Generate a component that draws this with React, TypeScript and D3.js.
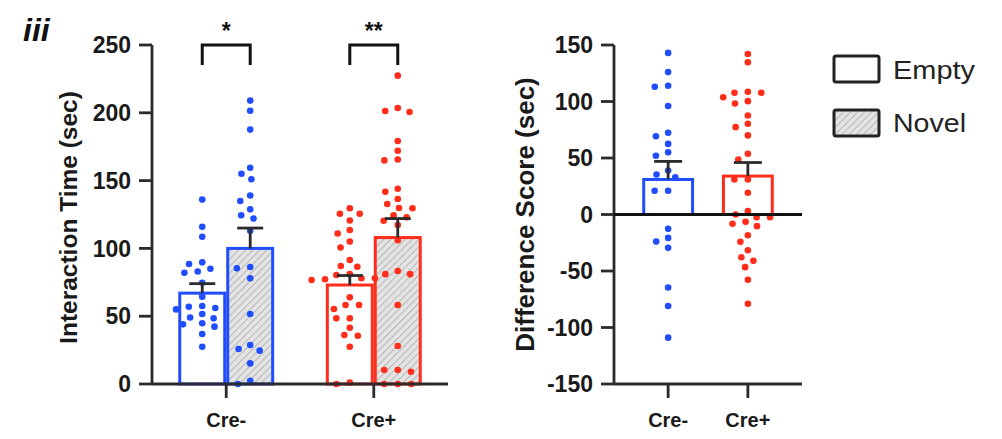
import React from "react";
import * as d3 from "d3";

// Groups and conditions
const groups = ["Cre-", "Cre+"];
const conditions = ["Empty", "Novel"];

// Interaction time (sec), one value per animal
const creMinusEmpty = [136, 116, 108.6, 85, 89.7, 82, 88.5, 83, 74.7, 64.4, 57, 51.6, 44, 55, 48.4, 42.3, 56, 44.8, 57.5, 49, 36.9, 27.5];
const creMinusNovel = [209, 201.5, 187.6, 159.5, 151, 155, 135, 139, 128.8, 124.4, 122, 113, 85.3, 86.3, 78, 51.6, 28.8, 24.6, 25.8, 15.2, 2.4, 0];
const crePlusEmpty = [129.6, 125.6, 125.6, 120.6, 113.6, 111, 105, 100.7, 91.4, 86.5, 87, 78, 81, 77.2, 78, 80.4, 76.7, 63.9, 55.3, 58.3, 58.3, 48.4, 48.4, 41.5, 35.6, 36.1, 27.5, 0, 1];
const crePlusNovel = [227.4, 203.5, 201.3, 200.6, 179.2, 172, 164.9, 165.6, 141.7, 144, 136.4, 132.7, 129.8, 129.6, 124.4, 122.9, 120.4, 117.3, 106, 81, 83.3, 81, 58.3, 28, 10.3, 9, 10.3, 0, 0, 0];

// Group means and SEM for interaction time: [Empty, Novel]
const meanCreMinus = [67, 100];
const meanCrePlus = [73, 108];
const semCreMinus = [7, 15];
const semCrePlus = [7, 14];

// Difference score (Novel - Empty, sec)
const diffCreMinus = [143, 126, 114, 113, 96, 72.3, 69.3, 62.5, 55, 52, 39, 35.4, 33, 21, 21, -12.7, -24, -20.7, -29.5, -64.6, -81, -109];
const diffCrePlus = [142, 134.8, 107.7, 108.6, 103.8, 107.7, 100.3, 98.2, 87.6, 77.3, 80.3, 70, 53.7, 48.7, 31, 31, 19.2, 3, 0, -6.5, -2.4, -2.4, -10.3, -8.2, -18.3, -24.2, -31.6, -37.8, -41, -46.6, -57.8, -79];
const meanDiff = [31, 34];
const semDiff = [16, 12];

const interactionTicks = [0, 50, 100, 150, 200, 250];
const diffTicks = [-150, -100, -50, 0, 50, 100, 150];
const significance = ["*", "**"];

const BLUE = "#1f4dff";
const RED = "#ff2d1a";
const AXIS = "#2b2b2b";
const FONT = "'Liberation Sans', Arial, Helvetica, sans-serif";

// Simple beeswarm: x offsets so dots (elliptical footprint) don't overlap
function swarm(values: number[], y: (v: number) => number, rx = 13.5, ry = 8): number[] {
  const order = values.map((_, i) => i).sort((a, b) => values[b] - values[a]);
  const placed: { x: number; y: number }[] = [];
  const out: number[] = new Array(values.length).fill(0);
  for (const i of order) {
    const py = y(values[i]);
    const intervals: [number, number][] = [];
    for (const p of placed) {
      const dy = Math.abs(p.y - py);
      if (dy < ry) {
        const h = rx * Math.sqrt(1 - (dy / ry) ** 2);
        intervals.push([p.x - h, p.x + h]);
      }
    }
    const cands = [0, ...intervals.flatMap(([a, b]) => [a, b])].sort((a, b) => Math.abs(a) - Math.abs(b) || a - b);
    let x = 0;
    for (const c of cands) {
      if (intervals.every(([a, b]) => c <= a + 1e-6 || c >= b - 1e-6)) {
        x = c;
        break;
      }
    }
    placed.push({ x, y: py });
    out[i] = x;
  }
  return out;
}

function Dots({ values, cx, y, color }: { values: number[]; cx: number; y: (v: number) => number; color: string }) {
  const offs = swarm(values, y);
  return (
    <g>
      {values.map((v, i) => (
        <circle key={i} cx={cx + offs[i]} cy={y(v)} r={3.3} fill={color} />
      ))}
    </g>
  );
}

function ErrorBar({ cx, y, mean, sem, cap }: { cx: number; y: (v: number) => number; mean: number; sem: number; cap: number }) {
  const top = y(mean + sem);
  return (
    <g stroke={AXIS} strokeWidth={2.8} fill="none">
      <line x1={cx} x2={cx} y1={y(mean)} y2={top} />
      <line x1={cx - cap} x2={cx + cap} y1={top} y2={top} />
    </g>
  );
}

export default function App() {
  // ----- Left panel: interaction time -----
  const yL = d3.scaleLinear().domain([0, 250]).range([384, 45]);
  const xL = d3.scaleBand<string>().domain(groups).range([152, 448]).paddingInner(0.35).paddingOuter(0.178);
  const subL = d3.scaleBand<string>().domain(conditions).range([0, xL.bandwidth()]);
  const leftPoints = [
    [creMinusEmpty, creMinusNovel],
    [crePlusEmpty, crePlusNovel],
  ];
  const leftMeans = [meanCreMinus, meanCrePlus];
  const leftSems = [semCreMinus, semCrePlus];
  const groupColors = [BLUE, RED];

  // ----- Right panel: difference score -----
  const yR = d3.scaleLinear().domain([-150, 150]).range([384, 45]);
  const xR = d3.scaleBand<string>().domain(groups).range([614, 802]).paddingInner(0.35).paddingOuter(0.354);
  const diffPoints = [diffCreMinus, diffCrePlus];

  return (
    <svg width={1002} height={439} style={{ position: "absolute", left: 0, top: 0, background: "#fff" }} fontFamily={FONT}>
      <defs>
        <pattern id="hatch" width={5} height={5} patternUnits="userSpaceOnUse" patternTransform="rotate(45)">
          <rect width={5} height={5} fill="#e4e4e4" />
          <line x1={0} y1={0} x2={0} y2={5} stroke="#b9b9b9" strokeWidth={2.2} />
        </pattern>
      </defs>

      {/* panel label */}
      <text x={23} y={41} fontSize={32} fontWeight="bold" fontStyle="italic" fill="#111">iii</text>

      {/* ===== Left panel ===== */}
      {groups.map((g, gi) => {
        const x0 = xL(g)!;
        return (
          <g key={g}>
            {conditions.map((c, ci) => {
              const bx = x0 + subL(c)!;
              const bw = subL.bandwidth();
              return (
                <rect
                  key={c}
                  x={bx + 1.5}
                  y={yL(leftMeans[gi][ci])}
                  width={bw - 3}
                  height={yL(0) - yL(leftMeans[gi][ci])}
                  fill={ci === 1 ? "url(#hatch)" : "#fff"}
                  stroke={groupColors[gi]}
                  strokeWidth={3}
                />
              );
            })}
            {conditions.map((c, ci) => (
              <Dots key={c} values={leftPoints[gi][ci]} cx={x0 + subL(c)! + subL.bandwidth() / 2} y={yL} color={groupColors[gi]} />
            ))}
            {conditions.map((c, ci) => (
              <ErrorBar key={c} cx={x0 + subL(c)! + subL.bandwidth() / 2} y={yL} mean={leftMeans[gi][ci]} sem={leftSems[gi][ci]} cap={13} />
            ))}
            {/* significance bracket */}
            {(() => {
              const a = x0 + subL.bandwidth() / 2;
              const b = x0 + subL.bandwidth() + subL.bandwidth() / 2;
              return (
                <g>
                  <path d={`M${a},65V45H${b}V65`} fill="none" stroke="#111" strokeWidth={3} />
                  <text x={(a + b) / 2} y={39} textAnchor="middle" fontSize={23} fontWeight="bold" fill="#111">
                    {significance[gi]}
                  </text>
                </g>
              );
            })()}
          </g>
        );
      })}

      {/* left axes */}
      <g stroke={AXIS} strokeWidth={2.8} fill="none">
        <line x1={152} x2={152} y1={yL(250)} y2={yL(0)} />
        <line x1={152} x2={448} y1={yL(0)} y2={yL(0)} />
        {interactionTicks.map((t) => (
          <line key={t} x1={139} x2={152} y1={yL(t)} y2={yL(t)} />
        ))}
        {groups.map((g) => (
          <line key={g} x1={xL(g)! + xL.bandwidth() / 2} x2={xL(g)! + xL.bandwidth() / 2} y1={yL(0)} y2={yL(0) + 14} />
        ))}
      </g>
      {interactionTicks.map((t) => (
        <text key={t} x={131} y={yL(t)} dy="0.36em" textAnchor="end" fontSize={23} fontWeight="bold" fill="#1a1a1a">
          {t}
        </text>
      ))}
      {groups.map((g) => (
        <text key={g} x={xL(g)! + xL.bandwidth() / 2} y={427} textAnchor="middle" fontSize={20} fontWeight="bold" fill="#1a1a1a">
          {g}
        </text>
      ))}
      <text transform={`translate(77,${(yL(0) + yL(250)) / 2 + 3}) rotate(-90)`} textAnchor="middle" fontSize={24.5} fontWeight="bold" fill="#1a1a1a">
        Interaction Time (sec)
      </text>

      {/* ===== Right panel ===== */}
      {groups.map((g, gi) => {
        const cx = xR(g)! + xR.bandwidth() / 2;
        return (
          <g key={g}>
            <rect
              x={xR(g)! + 1.5}
              y={yR(meanDiff[gi])}
              width={xR.bandwidth() - 3}
              height={yR(0) - yR(meanDiff[gi])}
              fill="#fff"
              stroke={groupColors[gi]}
              strokeWidth={3}
            />
            <Dots values={diffPoints[gi]} cx={cx} y={yR} color={groupColors[gi]} />
            <ErrorBar cx={cx} y={yR} mean={meanDiff[gi]} sem={semDiff[gi]} cap={14} />
          </g>
        );
      })}
      <g stroke={AXIS} strokeWidth={2.8} fill="none">
        <line x1={614} x2={614} y1={yR(150)} y2={yR(-150)} />
        <line x1={614} x2={802} y1={yR(-150)} y2={yR(-150)} />
        {diffTicks.map((t) => (
          <line key={t} x1={601} x2={614} y1={yR(t)} y2={yR(t)} />
        ))}
        {groups.map((g) => (
          <line key={g} x1={xR(g)! + xR.bandwidth() / 2} x2={xR(g)! + xR.bandwidth() / 2} y1={yR(-150)} y2={yR(-150) + 14} />
        ))}
      </g>
      <line x1={614} x2={802} y1={yR(0)} y2={yR(0)} stroke="#111" strokeWidth={3} />
      {diffTicks.map((t) => (
        <text key={t} x={593} y={yR(t)} dy="0.36em" textAnchor="end" fontSize={23} fontWeight="bold" fill="#1a1a1a">
          {t}
        </text>
      ))}
      {groups.map((g) => (
        <text key={g} x={xR(g)! + xR.bandwidth() / 2} y={427} textAnchor="middle" fontSize={20} fontWeight="bold" fill="#1a1a1a">
          {g}
        </text>
      ))}
      <text transform={`translate(534,${(yR(150) + yR(-150)) / 2}) rotate(-90)`} textAnchor="middle" fontSize={26} fontWeight="bold" fill="#1a1a1a">
        Difference Score (sec)
      </text>

      {/* ===== Legend ===== */}
      {conditions.map((c, i) => (
        <g key={c}>
          <rect x={834} y={56 + i * 54} width={45} height={26} rx={2} fill={i === 1 ? "url(#hatch)" : "#fff"} stroke="#222" strokeWidth={3} />
          <text x={893} y={79 + i * 53} fontSize={25} fill="#222" textLength={i === 0 ? 82 : 73} lengthAdjust="spacingAndGlyphs">
            {c}
          </text>
        </g>
      ))}
    </svg>
  );
}
